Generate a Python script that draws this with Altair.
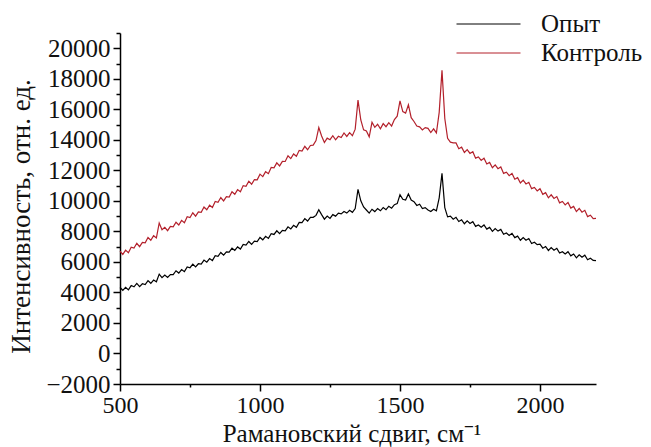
import altair as alt
import pandas as pd

shift = list(range(500, 2201, 10))

series_names = ["Опыт", "Контроль"]
series_colors = ["#000000", "#b3202b"]

control = [
    6700, 6490, 6770, 6600, 6970, 6910, 7220, 7000, 7280, 7250,
    7600, 7420, 7720, 7570, 8550, 8110, 8270, 8050, 8330, 8300,
    8600, 8420, 8720, 8570, 8960, 8910, 9220, 9000, 9280, 9250,
    9600, 9420, 9720, 9570, 9960, 9910, 10220, 10000, 10280, 10250,
    10600, 10430, 10740, 10600, 11000, 10960, 11290, 11090, 11390, 11380,
    11750, 11590, 11910, 11780, 12190, 12160, 12490, 12290, 12590, 12580,
    12950, 12770, 13070, 12920, 13310, 13260, 13570, 13350, 13630, 13650,
    13950, 14800, 14250, 13820, 14110, 14010, 14270, 14000, 14230, 14150,
    14450, 14220, 14470, 14270, 14700, 16600, 15300, 14650, 14580, 14200,
    15150, 14820, 15020, 14720, 15060, 14860, 15120, 14900, 15330, 15550,
    16550, 15850, 15750, 16300, 15450, 15200, 14900, 14850, 14650, 14800,
    14750, 14480, 14720, 14450, 15800, 18550, 15400, 14100, 13850, 13800,
    13800, 13420, 13520, 13170, 13360, 13110, 13220, 12800, 12880, 12650,
    12800, 12420, 12520, 12170, 12360, 12110, 12220, 11800, 11880, 11650,
    11800, 11420, 11520, 11170, 11360, 11110, 11220, 10800, 10880, 10650,
    10800, 10430, 10540, 10200, 10400, 10160, 10280, 9870, 9960, 9740,
    9900, 9530, 9640, 9300, 9500, 9260, 9380, 8970, 9060, 8840,
    8850,
]

experiment = [
    4320, 4140, 4340, 4170, 4450, 4370, 4590, 4380, 4570, 4520,
    4770, 4600, 4810, 4700, 5200, 4970, 5140, 4980, 5170, 5170,
    5420, 5270, 5500, 5360, 5670, 5620, 5860, 5670, 5880, 5850,
    6120, 5980, 6220, 6090, 6410, 6370, 6620, 6440, 6660, 6640,
    6900, 6750, 6980, 6840, 7150, 7100, 7340, 7150, 7360, 7330,
    7600, 7450, 7680, 7540, 7850, 7800, 8040, 7850, 8060, 8030,
    8300, 8160, 8400, 8270, 8590, 8570, 8840, 8680, 8920, 8920,
    9050, 9420, 9100, 8800, 9000, 8850, 9100, 9000, 9200, 9150,
    9300, 9200, 9380, 9250, 9500, 10750, 10000, 9600, 9400, 9200,
    9450, 9300, 9500, 9350, 9560, 9420, 9650, 9520, 9750, 9820,
    10400, 10100, 10050, 10450, 10050, 9950, 9700, 9780, 9500, 9560,
    9400, 9300, 9450, 9350, 10200, 11800, 9550, 8950, 9000, 8800,
    8920, 8650, 8760, 8500, 8690, 8520, 8640, 8330, 8420, 8270,
    8420, 8150, 8260, 8000, 8190, 8020, 8130, 7810, 7890, 7730,
    7870, 7590, 7690, 7420, 7600, 7420, 7530, 7210, 7290, 7130,
    7170, 6900, 7010, 6750, 6940, 6770, 6890, 6580, 6670, 6520,
    6670, 6400, 6520, 6270, 6470, 6310, 6440, 6140, 6240, 6100,
    6080,
]

x_ticks = [500, 750, 1000, 1250, 1500, 1750, 2000]
y_ticks = list(range(-2000, 21001, 1000))

df = pd.concat([
    pd.DataFrame({"x": shift, "y": experiment, "s": series_names[0]}),
    pd.DataFrame({"x": shift, "y": control, "s": series_names[1]}),
])

FONT = "Times New Roman, Liberation Serif, Tinos, Noto Serif, DejaVu Serif, serif"

chart = alt.Chart(df).mark_line(strokeWidth=1.2).encode(
    x=alt.X("x:Q",
            scale=alt.Scale(domain=[500, 2200], nice=False, zero=False),
            axis=alt.Axis(
                title="Рамановский сдвиг, см⁻¹",
                values=x_ticks, format="d", labelFlush=False, labelOverlap=False,
                labelExpr="datum.value % 500 === 0 ? datum.label : ''",
                tickSize={"condition": {"test": "datum.value % 500 === 0", "value": 7}, "value": 3},
                grid=False, labelPadding=2, labelFontSize=24, titleFontSize=25,
                titleX=231.5, titleY=57, titleBaseline="alphabetic", titleAlign="center",
            )),
    y=alt.Y("y:Q",
            scale=alt.Scale(domain=[-2000, 21000], nice=False, zero=False),
            axis=alt.Axis(
                title="Интенсивность, отн. ед.",
                values=y_ticks, format="d", labelFlush=False, labelOverlap=False,
                labelExpr="datum.value % 2000 === 0 ? datum.label : ''",
                tickSize={"condition": {"test": "datum.value % 2000 === 0", "value": 7}, "value": 4},
                grid=False, labelPadding=3, labelFontSize=25, titleFontSize=27,
                titleX=-99, titleY=183, titleBaseline="middle", titleAlign="center", titleAngle=-90,
            )),
    color=alt.Color("s:N",
                    scale=alt.Scale(domain=series_names, range=series_colors),
                    sort=series_names,
                    legend=alt.Legend(
                        title=None, orient="none", legendX=356, legendY=-21.5,
                        symbolType="M-4,0H4", symbolSize=256, symbolStrokeWidth=1,
                        labelOffset=40, rowPadding=3, padding=0,
                        labelFontSize=25, labelFont=FONT, labelColor="#111",
                    )),
).properties(
    width=476, height=351,
    autosize=alt.AutoSizeParams(type="none"),
    padding={"left": 120, "top": 33, "right": 55, "bottom": 63},
).configure(font=FONT).configure_view(stroke=None).configure_axis(
    labelFont=FONT, titleFont=FONT,
    labelColor="#111", titleColor="#111", titleFontWeight="normal",
    domainColor="#000", tickColor="#000", domainWidth=1.5, tickWidth=1.5,
)

chart.save("out.html", embed_options={"renderer": "svg", "actions": False})
